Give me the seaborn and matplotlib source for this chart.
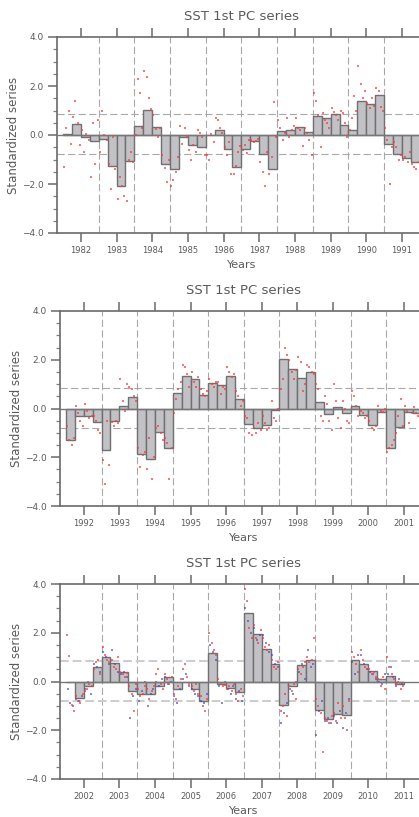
import numpy as np
import pandas as pd
import matplotlib
matplotlib.use("Agg")
import matplotlib.pyplot as plt
from matplotlib.ticker import MultipleLocator, NullLocator
import seaborn as sns

# quarterly PC values, 4 per year, starting half a year before the first tick
years1 = list(range(1982, 1992))
pc1 = [0.03, 0.45, -0.10, -0.26,
       -0.16, -1.27, -2.10, -1.08,
       0.36, 1.01, 0.31, -1.19,
       -1.38, -0.10, -0.42, -0.48,
       0.01, 0.20, -0.56, -1.30,
       -0.58, -0.26, -0.77, -1.37,
       0.16, 0.19, 0.33, 0.12,
       0.77, 0.70, 0.85, 0.40,
       0.22, 1.38, 1.27, 1.63,
       -0.38, -0.77, -0.95, -1.10]
red1 = [-1.3, 0.3, 1.0, -0.35, 0.75, 1.4, 0.5, -0.4, 0.2, -0.7, 0.05, -0.2, -1.7, 0.5, -1.2, 0.6,
        -0.7, 1.0, 0.0, -0.2, -1.2, -2.2, -0.1, -1.4, -2.6, -1.7, -2.1, -2.5, -2.7, -1.0, -0.7, -1.1,
        0.0, 2.3, 1.7, 0.3, 2.6, 2.35, 1.5, 1.05, 0.8, 0.25, -0.1, 0.3, -0.8, -1.35, -1.9, -1.0,
        -2.1, -1.85, -1.5, -0.9, 0.35, -0.35, 0.3, -0.1, -0.6, -1.0, -0.4, -0.7, 0.2, 0.1, -0.1, -0.8,
        -0.8, -1.0, 0.05, -0.3, 0.7, 0.6, 0.3, 0.1, -0.5, -0.8, -0.3, -1.6, -1.6, -1.25, -0.7, -0.45,
        -0.6, -0.4, -0.75, -0.2, -0.2, -0.3, -0.25, -0.15, -1.1, -1.5, -2.1, -0.7, -1.6, -0.9, 1.35, -0.1,
        0.6, 0.3, -0.2, 0.1, 0.7, -0.1, 0.2, 0.35, 0.7, 0.3, 0.2, -0.45, 0.3, 0.1, -0.2, -0.8,
        1.7, 1.4, 0.8, -0.5, 0.9, 0.6, 0.5, 0.3, 1.1, 0.95, 0.8, 0.6, 1.0, 0.9, 0.5, -0.1,
        0.2, 0.7, 1.6, 1.0, 2.8, 2.1, 1.5, 1.8, 1.3, 1.1, 1.5, 1.2, 1.9, 1.8, 1.15, 1.0,
        0.3, -0.2, -2.0, -0.5, -0.3, -0.5, -1.0, -0.8, -1.0, -0.9, -1.1, -0.7, -1.2, -1.3, -1.4, -1.1]

years2 = list(range(1992, 2002))
pc2 = [-1.31, -0.32, -0.32, -0.55,
       -1.70, -0.50, 0.12, 0.48,
       -1.86, -2.07, -0.97, -1.61,
       0.62, 1.35, 1.23, 0.57,
       1.03, 0.98, 1.35, 0.40,
       -0.65, -0.81, -0.68, -0.05,
       2.04, 1.64, 1.27, 1.49,
       0.25, -0.21, 0.08, -0.18,
       0.12, -0.25, -0.68, -0.15,
       -1.63, -0.76, -0.15, -0.20]
red2 = [-0.7, -1.3, -1.5, -1.2, 0.1, -0.2, -0.5, -0.7, 0.2, -0.1, -0.4, -0.3, -0.3, -0.5, -0.9, -1.0,
        -2.1, -3.1, -0.5, -2.3, -0.55, -0.7, -0.5, -0.6, 1.2, 0.3, -0.1, 1.0, 0.9, 0.8, 0.5, 0.3,
        -1.6, -2.4, -1.9, -1.8, -2.5, -1.2, -2.9, -2.0, -0.8, -0.7, -1.0, -1.3, -1.2, -1.4, -2.9, -1.6,
        -0.2, 0.4, 0.8, 1.1, 1.8, 1.7, 1.4, 0.9, 1.5, 1.1, 0.9, 1.3, 0.8, 0.6, 0.5, 0.7,
        1.2, 1.0, 0.9, 1.1, 1.1, 0.6, 0.9, 0.8, 1.7, 1.5, 1.3, 1.4, 0.7, 0.5, 0.1, 0.3,
        -0.3, -0.4, -1.0, -1.1, -0.8, -1.0, -0.6, -0.9, -0.3, -0.6, -0.9, -0.8, 0.3, -0.4, -0.5, 0.0,
        0.8, 1.2, 2.5, 2.2, 2.0, 1.5, 1.2, 1.6, 2.1, 1.9, 0.7, 1.0, 1.8, 1.7, 1.5, 1.4,
        1.0, 0.8, -0.3, -0.5, 0.5, 0.2, -0.5, -0.9, 1.0, 0.3, -0.4, -0.8, 0.3, 0.0, -0.5, -0.6,
        0.7, 0.5, 0.1, -0.3, -0.1, -0.2, -0.4, -0.3, -0.5, -0.8, -0.9, -0.7, 0.1, -0.1, -0.15, 0.0,
        -1.8, -1.6, -1.5, -1.3, -1.0, -0.3, 0.4, -0.7, 0.1, -0.1, -0.6, -0.2, 0.05, -0.2, -0.3, -0.1]

years3 = list(range(2002, 2012))
pc3 = [0.00, -0.69, -0.20, 0.60,
       1.02, 0.75, 0.37, -0.37,
       -0.52, -0.50, -0.17, 0.17,
       -0.32, 0.00, -0.30, -0.82,
       1.17, -0.12, -0.28, -0.45,
       2.80, 1.93, 1.33, 0.70,
       -0.95, -0.20, 0.67, 0.90,
       -1.15, -1.52, -1.32, -1.36,
       0.90, 0.70, 0.42, 0.12,
       0.24, -0.12]
red3 = [1.9, 1.05, -0.95, -1.2, -0.6, -0.8, -0.9, -0.5, -0.4, -0.3, -0.1, -0.2, 0.5, 0.8, 0.9, 0.3,
        1.4, 1.1, 0.9, 0.8, 0.9, 0.6, 0.5, 1.0, 0.4, 0.3, 0.2, 0.35, -0.2, -0.5, -1.2, -0.1,
        -0.3, -0.6, -0.5, -0.2, -0.3, -0.7, -0.4, -0.2, 0.3, 0.5, -0.1, -0.3, 0.3, 0.1, -0.1, 0.2,
        -0.5, -0.7, -0.2, 0.1, 0.5, 0.7, 0.2, -0.1, -0.2, -0.4, -0.1, -0.5, -0.6, -1.0, -1.2, -0.7,
        2.0, 1.6, 1.3, 1.1, 0.1, -0.1, -0.2, -0.15, -0.3, -0.2, -0.4, -0.1, -0.5, -0.8, -0.3, -0.6,
        3.8, 3.3, 2.2, 1.8, 2.3, 1.8, 1.6, 2.1, 1.8, 1.4, 1.3, 1.5, 0.9, 0.6, 0.5, 0.8,
        -1.2, -1.0, -0.5, -1.4, -0.2, -0.4, -0.1, -0.7, 0.5, 0.3, 0.6, 0.8, 1.0, 0.8, 0.9, 1.8,
        -0.7, -1.0, -1.3, -2.9, -1.5, -1.6, -1.7, -1.4, -1.3, -1.6, -0.9, -1.5, -1.0, -1.5, -2.0, -0.8,
        1.2, 1.0, 0.7, 0.4, 1.3, 0.9, 0.6, 0.5, 0.5, 0.3, 0.4, 0.2, 0.1, -0.2, 0.2, -0.3,
        1.0, 0.6, 0.3, 0.1, -0.1, 0.0, -0.3, -0.2]
blue3 = [-0.3, -0.9, -1.0, -0.7, -0.8, -0.6, -0.3, 0.0, -0.5, 0.7, 0.6, 0.4,
         1.2, 1.0, 0.7, 1.3, 0.7, 0.4, 0.3, 0.4, 0.2, -1.5, -0.6, -0.3,
         -0.8, -0.4, 0.0, -1.0, -0.5, -0.3, 0.0, -0.2, 0.1, 0.2, -0.1, 0.0,
         -0.6, -0.9, -0.3, 0.1, 0.3, -0.2, -0.3, -0.5, -0.6, -0.8, -0.9, -0.5,
         1.5, 1.2, 0.9, -0.2, -0.9, 0.0, -0.3, -0.5, -0.2, -0.7, -0.4, -0.8,
         3.0, 2.5, 2.0, 2.2, 1.7, 1.9, 1.9, 1.6, 1.2, 1.1, 0.7, 0.6,
         -1.7, -1.3, -0.9, -0.3, -0.5, 0.0, 0.4, 0.7, 0.1, 1.3, 0.6, 0.7,
         -2.2, -1.2, -0.8, -1.6, -1.5, -1.7, -1.4, -1.7, -1.2, -1.9, -1.3, -0.7,
         0.8, 0.3, 1.1, 1.1, 0.7, 0.5, 0.4, 0.3, 0.1, 0.0, -0.1, 0.3,
         0.3, 0.6, 0.2, -0.2, 0.1, -0.1]

hi_line, lo_line = 0.85, -0.79

TXT = "#5a5a5a"
BAR = "#c2c2c6"
EDGE = "#707070"
GRID = "#a8a8a8"
AXC = "#6a6a6a"

sns.set_style("ticks")
plt.rcParams["font.family"] = ["DejaVu Sans"]


def dots(years, vals, per):
    k = np.arange(len(vals))
    t = years[0] - 0.5 + 0.25 * (k // per) + 0.25 * ((k % per) + 0.5) / per
    return pd.DataFrame({"t": t, "v": vals})


fig = plt.figure(figsize=(4.19, 8.17), dpi=100)
W, H = 419, 817
boxes = [(57, 37, 233, 35.67), (60, 311, 506, 35.56), (60, 584, 779, 35.56)]
panels = [(years1, pc1, red1, None), (years2, pc2, red2, None), (years3, pc3, red3, blue3)]

for (left, top, bottom, pxyr), (years, pc, red, blue) in zip(boxes, panels):
    x0, x1 = years[0] - 0.67, years[-1] + 0.67
    wpx = (x1 - x0) * pxyr
    hpx = bottom - top
    ax = fig.add_axes([left / W, (H - bottom) / H, wpx / W, hpx / H])

    bars = pd.DataFrame({"t": years[0] - 0.375 + 0.25 * np.arange(len(pc)), "pc": pc})
    sns.barplot(data=bars, x="t", y="pc", native_scale=True, width=1.0, color=BAR,
                saturation=1, edgecolor=EDGE, linewidth=1.0, errorbar=None, ax=ax, zorder=2)

    dr = dots(years, red, 4)
    sns.scatterplot(data=dr, x="t", y="v", marker="s", s=2.2, color="#ff3a3a",
                    linewidth=0, alpha=0.7, ax=ax, zorder=4)
    if blue is not None:
        db = dots(years, blue, 3)
        sns.scatterplot(data=db, x="t", y="v", marker="s", s=2.2, color="#4a4ac0",
                        linewidth=0, alpha=0.65, ax=ax, zorder=3)

    for y in years:
        ax.axvline(y + 0.5, color=GRID, lw=0.8, ls=(0, (6.5, 3)), zorder=1)
    hl = dict(color="#cccccc", lw=1.4, ls=(0, (4.5, 2))) if blue is not None else \
        dict(color=GRID, lw=0.8, ls=(0, (6.5, 3)))
    ax.axhline(hi_line, zorder=1, **hl)
    ax.axhline(lo_line, zorder=1, **hl)
    ax.axhline(0, color="#777777", lw=1.0, zorder=3)

    ax.set_xlim(x0, x1)
    ax.set_ylim(-4, 4)
    ax.set_xticks(years)
    ax.set_xticklabels([str(y) for y in years])
    ax.xaxis.set_minor_locator(NullLocator())
    yt = [-4, -2, 0, 2, 4]
    ax.set_yticks(yt)
    ax.set_yticklabels([f"{v:.1f}".replace("-", "\u2212") for v in yt])
    ax.yaxis.set_minor_locator(MultipleLocator(0.5))
    ax.set_xlabel("")
    ax.set_ylabel("")

    ax.tick_params(axis="x", which="major", direction="out", length=6.5, width=1.1,
                   color=AXC, top=True, bottom=True, labeltop=False,
                   labelsize=6, labelcolor=TXT, pad=3)
    ax.tick_params(axis="y", which="major", direction="out", length=6.5, width=1.1,
                   color=AXC, left=True, right=False, labelsize=6.5,
                   labelcolor=TXT, pad=3)
    ax.tick_params(axis="y", which="minor", direction="out", length=3, width=0.9,
                   color="#808080", left=True, right=False)
    for sp in ax.spines.values():
        sp.set_color(AXC)
        sp.set_linewidth(1.2)

    ax.text(0.5, 1 + 17 / hpx, "SST 1st PC series", transform=ax.transAxes,
            ha="center", va="baseline", fontsize=9.5, color=TXT)
    ax.text(0.5, -35 / hpx, "Years", transform=ax.transAxes,
            ha="center", va="baseline", fontsize=8, color=TXT)
    ax.text(-43 / wpx, 0.5, "Standardized series", transform=ax.transAxes,
            ha="center", va="center", rotation=90, fontsize=8.5, color=TXT)

fig.savefig("out.png", dpi=100)
